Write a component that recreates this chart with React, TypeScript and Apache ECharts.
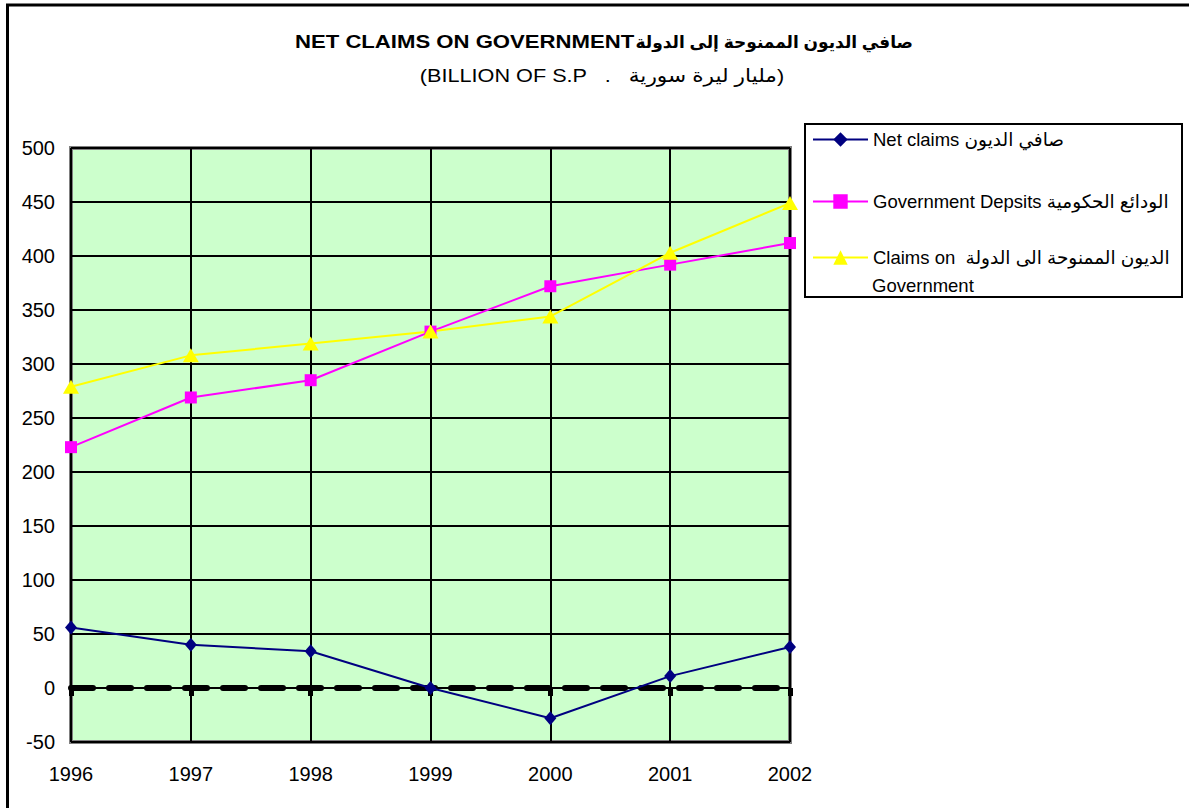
import React, { useEffect, useRef } from "react";
import * as echarts from "echarts";

const years = ["1996", "1997", "1998", "1999", "2000", "2001", "2002"];
const netClaims = [56, 40, 34, 0, -28, 11, 38];
const govDeposits = [223, 269, 285, 330, 372, 392, 412];
const claimsOnGov = [279, 308, 319, 330, 344, 403, 449];

const nameNet = "Net claims صافي الديون";
const nameDep = "Government Depsits الودائع الحكومية";
const nameClaims = "Claims on  الديون الممنوحة الى الدولة";
const nameClaimsLine2 = "Government";

const titleEn = "NET CLAIMS ON GOVERNMENT";
const titleAr = "صافي الديون الممنوحة إلى الدولة";
const subtitle = "(BILLION OF S.P   .   مليار ليرة سورية)";

const FONT = "'Liberation Sans', Arial, 'DejaVu Sans', sans-serif";

export default function App() {
  const ref = useRef<HTMLDivElement>(null);
  useEffect(() => {
    document.body.style.margin = "0";
    const chart = echarts.init(ref.current!, null, { renderer: "svg" });
    const legendBase = {
      orient: "horizontal",
      left: 812,
      padding: 0,
      itemWidth: 55,
      itemHeight: 18,
      itemGap: 0,
      textStyle: { fontSize: 18.5, color: "#000", fontFamily: FONT },
      selectedMode: false,
    };
    chart.setOption({
      animation: false,
      backgroundColor: "#fff",
      textStyle: { fontFamily: FONT },
      legend: [
        { ...legendBase, top: 130, data: [nameNet] },
        { ...legendBase, top: 192, data: [nameDep] },
        { ...legendBase, top: 248, data: [nameClaims] },
      ],
      graphic: [
        {
          type: "rect",
          shape: { x: 7.5, y: 5, width: 1400, height: 1000 },
          style: { fill: "none", stroke: "#000", lineWidth: 3 },
          silent: true,
        },
        {
          type: "rect",
          shape: { x: 805, y: 124, width: 377, height: 173 },
          style: { fill: "none", stroke: "#000", lineWidth: 2 },
          silent: true,
          z: -1,
        },
        {
          type: "text",
          x: 872,
          y: 285,
          style: {
            text: nameClaimsLine2,
            fontSize: 18.5,
            fill: "#000",
            fontFamily: FONT,
            verticalAlign: "middle",
          },
          silent: true,
        },
        {
          type: "text",
          x: 295,
          y: 42,
          scaleX: 1.23,
          style: {
            text: titleEn,
            fontSize: 18,
            fontWeight: "bold",
            fill: "#000",
            fontFamily: FONT,
            verticalAlign: "middle",
          },
          silent: true,
        },
        {
          type: "text",
          x: 913,
          y: 42,
          style: {
            text: titleAr,
            fontSize: 17,
            fontWeight: "bold",
            fill: "#000",
            fontFamily: FONT,
            align: "right",
            verticalAlign: "middle",
          },
          silent: true,
        },
        {
          type: "text",
          x: 602,
          y: 75,
          scaleX: 1.14,
          style: {
            text: subtitle,
            fontSize: 19,
            fill: "#000",
            fontFamily: FONT,
            align: "center",
            verticalAlign: "middle",
          },
          silent: true,
        },
      ],
      grid: {
        left: 71,
        top: 148,
        width: 719,
        height: 594,
        show: true,
        backgroundColor: "#CCFFCC",
        borderColor: "#808080",
        borderWidth: 4,
      },
      xAxis: [
        {
          type: "category",
          data: years,
          boundaryGap: false,
          position: "bottom",
          axisLine: { show: false, onZero: false },
          axisTick: { show: false },
          axisLabel: { color: "#000", fontSize: 20, margin: 22, fontFamily: FONT },
          splitLine: { show: true, lineStyle: { color: "#000", width: 2 } },
        },
        {
          type: "category",
          data: years,
          boundaryGap: false,
          position: "bottom",
          axisLine: {
            show: true,
            onZero: true,
            lineStyle: { color: "#000", width: 6, type: [22, 16] },
          },
          axisTick: { show: true, length: 8, lineStyle: { color: "#000", width: 5 } },
          axisLabel: { show: false },
          splitLine: { show: false },
          z: 3,
        },
      ],
      yAxis: {
        type: "value",
        min: -50,
        max: 500,
        interval: 50,
        axisLine: { show: false },
        axisTick: { show: false },
        axisLabel: { color: "#000", fontSize: 20, margin: 16, fontFamily: FONT },
        splitLine: { show: true, lineStyle: { color: "#000", width: 2 } },
      },
      series: [
        {
          name: nameNet,
          type: "line",
          data: netClaims,
          xAxisIndex: 0,
          symbol: "diamond",
          symbolSize: [12, 14],
          color: "#000080",
          lineStyle: { color: "#000080", width: 2 },
          itemStyle: { color: "#000080" },
          z: 5,
        },
        {
          name: nameDep,
          type: "line",
          data: govDeposits,
          xAxisIndex: 0,
          symbol: "rect",
          symbolSize: 12,
          color: "#FF00FF",
          lineStyle: { color: "#FF00FF", width: 2 },
          itemStyle: { color: "#FF00FF" },
          z: 5,
        },
        {
          name: nameClaims,
          type: "line",
          data: claimsOnGov,
          xAxisIndex: 0,
          symbol: "triangle",
          symbolSize: [16, 14],
          color: "#FFFF00",
          lineStyle: { color: "#FFFF00", width: 2 },
          itemStyle: { color: "#FFFF00" },
          z: 5,
        },
      ],
    });
    return () => chart.dispose();
  }, []);
  return <div ref={ref} style={{ position: "absolute", left: 0, top: 0, width: 1189, height: 808 }} />;
}
